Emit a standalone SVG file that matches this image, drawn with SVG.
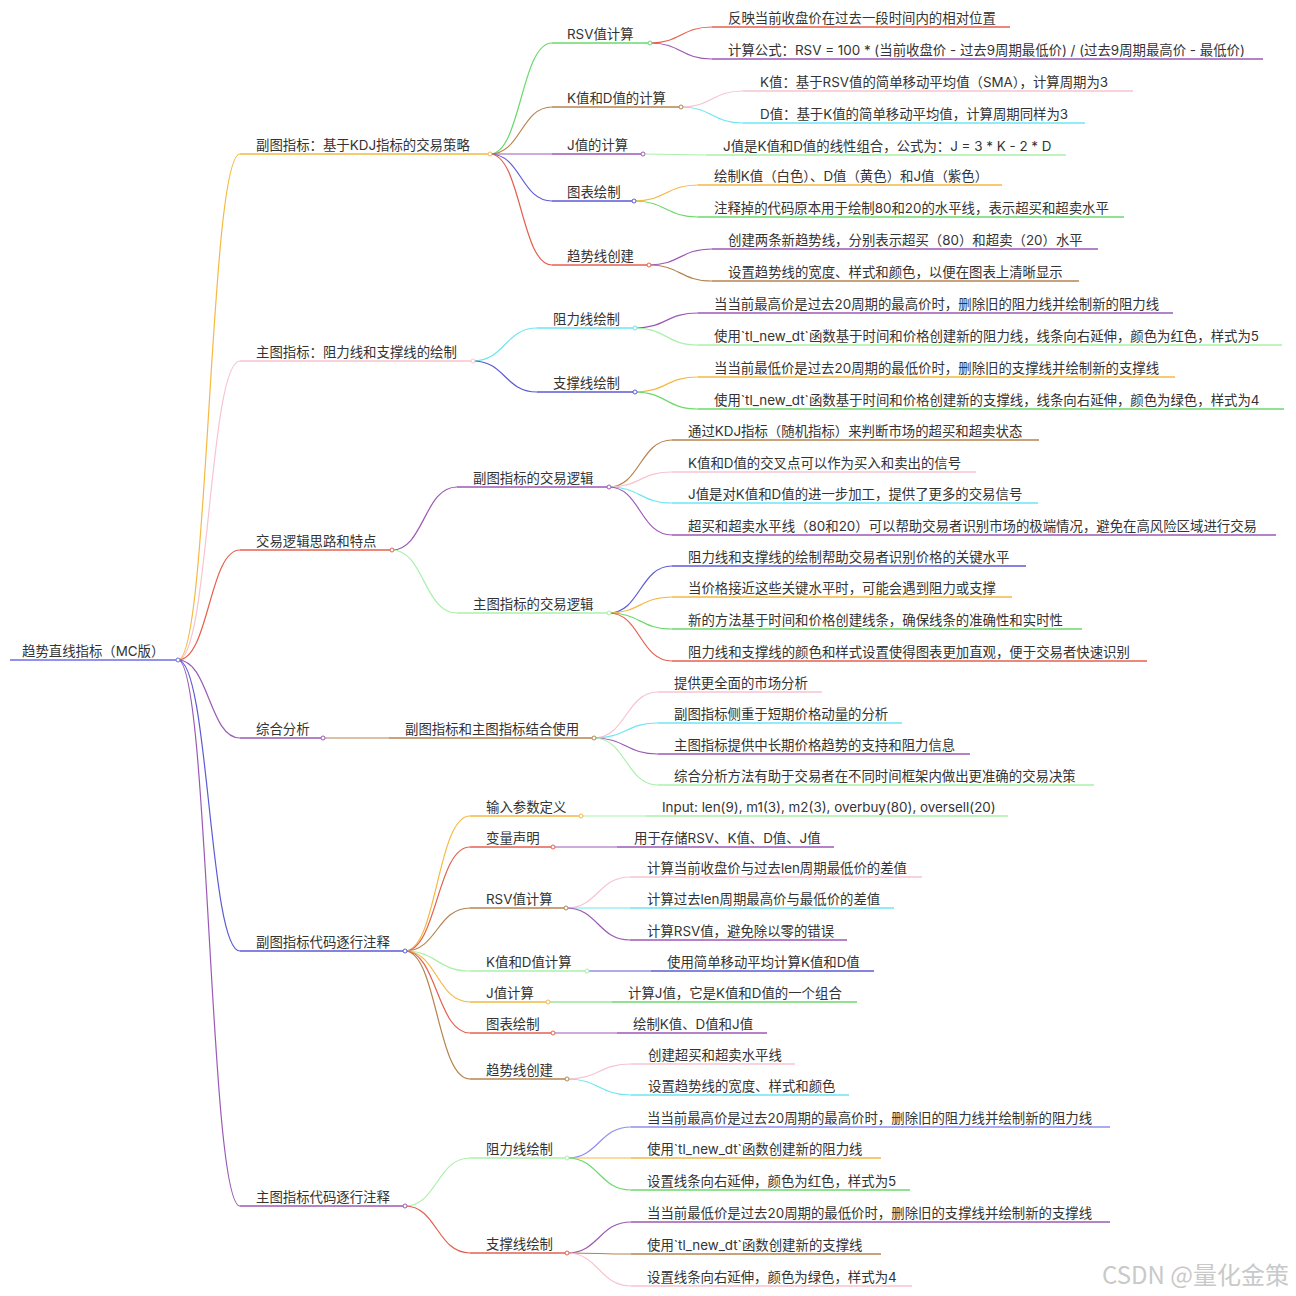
<svg xmlns="http://www.w3.org/2000/svg" width="1296" height="1296" viewBox="0 0 1296 1296">
<style>
text{font-family:"Inter","Noto Sans CJK SC",sans-serif;font-size:13.4px;fill:#333}
.u{fill:none;stroke-width:1.5}
.l{fill:none;stroke-width:1.2}
.d{fill:#fff;stroke-width:1}
.orange{stroke:#f4b942}.pink{stroke:#f7c4cf}.red{stroke:#e4604f}.purple{stroke:#9b59b6}.blue{stroke:#5b5bd6}.brown{stroke:#b5834e}.green{stroke:#6bd96b}.lgreen{stroke:#aaf0aa}.cyan{stroke:#6ee6f2}.lav{stroke:#8f8ff0}.root{stroke:#6e6ee6}
text.wm{font-family:"Noto Sans CJK SC",sans-serif;font-size:24px;fill:#c9c9c9}
</style>
<rect width="1296" height="1296" fill="#fff"/>
<g id="connectors">
<path class="l orange" d="M178 660C209 660 209 154 240 154"/>
<path class="l pink" d="M178 660C209 660 209 361 240 361"/>
<path class="l red" d="M178 660C209 660 209 550 240 550"/>
<path class="l purple" d="M178 660C209 660 209 738 240 738"/>
<path class="l blue" d="M178 660C209 660 209 951 240 951"/>
<path class="l purple" d="M178 660C209 660 209 1206 240 1206"/>
<path class="l green" d="M490 154C521 154 521 43 552 43"/>
<path class="l brown" d="M490 154C521 154 521 107 552 107"/>
<path class="l purple" d="M490 154H552"/>
<path class="l blue" d="M490 154C521 154 521 201 552 201"/>
<path class="l red" d="M490 154C521 154 521 265 552 265"/>
<path class="l red" d="M650 43C681 43 681 27 712 27"/>
<path class="l purple" d="M650 43C681 43 681 59 712 59"/>
<path class="l pink" d="M681 107C712 107 712 91 743 91"/>
<path class="l cyan" d="M681 107C712 107 712 123 743 123"/>
<path class="l lgreen" d="M643 154C675 154 675 155 706 155"/>
<path class="l orange" d="M634 201C666 201 666 185 698 185"/>
<path class="l green" d="M634 201C666 201 666 217 698 217"/>
<path class="l purple" d="M649 265C680 265 680 249 712 249"/>
<path class="l brown" d="M649 265C680 265 680 281 712 281"/>
<path class="l cyan" d="M473 361C505 361 505 328 537 328"/>
<path class="l blue" d="M473 361C505 361 505 392 537 392"/>
<path class="l purple" d="M635 328C666 328 666 313 698 313"/>
<path class="l lgreen" d="M635 328C666 328 666 345 698 345"/>
<path class="l orange" d="M635 392C666 392 666 377 698 377"/>
<path class="l green" d="M635 392C666 392 666 409 698 409"/>
<path class="l purple" d="M392 550C424 550 424 487 457 487"/>
<path class="l lgreen" d="M392 550C424 550 424 613 457 613"/>
<path class="l brown" d="M609 487C640 487 640 440 672 440"/>
<path class="l pink" d="M609 487C640 487 640 472 672 472"/>
<path class="l cyan" d="M609 487C640 487 640 503 672 503"/>
<path class="l purple" d="M609 487C640 487 640 535 672 535"/>
<path class="l blue" d="M609 613C640 613 640 566 672 566"/>
<path class="l orange" d="M609 613C640 613 640 597 672 597"/>
<path class="l green" d="M609 613C640 613 640 629 672 629"/>
<path class="l red" d="M609 613C640 613 640 661 672 661"/>
<path class="l brown" d="M323 738H389"/>
<path class="l pink" d="M594 738C626 738 626 692 658 692"/>
<path class="l cyan" d="M594 738C626 738 626 723 658 723"/>
<path class="l purple" d="M594 738C626 738 626 754 658 754"/>
<path class="l lgreen" d="M594 738C626 738 626 785 658 785"/>
<path class="l orange" d="M405 951C437 951 437 816 470 816"/>
<path class="l red" d="M405 951C437 951 437 847 470 847"/>
<path class="l brown" d="M405 951C437 951 437 908 470 908"/>
<path class="l lgreen" d="M405 951C437 951 437 971 470 971"/>
<path class="l orange" d="M405 951C437 951 437 1002 470 1002"/>
<path class="l red" d="M405 951C437 951 437 1033 470 1033"/>
<path class="l brown" d="M405 951C437 951 437 1079 470 1079"/>
<path class="l lgreen" d="M581 816H646"/>
<path class="l purple" d="M553 847H617"/>
<path class="l pink" d="M566 908C598 908 598 877 630 877"/>
<path class="l cyan" d="M566 908H630"/>
<path class="l purple" d="M566 908C598 908 598 940 630 940"/>
<path class="l blue" d="M587 971H651"/>
<path class="l green" d="M548 1002H612"/>
<path class="l purple" d="M553 1033H617"/>
<path class="l pink" d="M567 1079C599 1079 599 1064 631 1064"/>
<path class="l cyan" d="M567 1079C599 1079 599 1095 631 1095"/>
<path class="l lgreen" d="M405 1206C437 1206 437 1158 470 1158"/>
<path class="l red" d="M405 1206C437 1206 437 1253 470 1253"/>
<path class="l lav" d="M567 1158C599 1158 599 1127 631 1127"/>
<path class="l orange" d="M567 1158H631"/>
<path class="l green" d="M567 1158C599 1158 599 1190 631 1190"/>
<path class="l purple" d="M567 1253C599 1253 599 1222 631 1222"/>
<path class="l brown" d="M567 1253C599 1253 599 1254 631 1254"/>
<path class="l pink" d="M567 1253C599 1253 599 1286 631 1286"/>
</g>
<g id="n-root"><path class="u root" d="M10 660H178"/><circle class="d root" cx="178" cy="660" r="2"/><text x="22" y="656">趋势直线指标（MC版）</text></g>
<g id="n-A"><path class="u orange" d="M240 154H490"/><circle class="d orange" cx="490" cy="154" r="2"/><text x="256" y="150">副图指标：基于KDJ指标的交易策略</text></g>
<g id="n-A1"><path class="u green" d="M552 43H650"/><circle class="d green" cx="650" cy="43" r="2"/><text x="567" y="39">RSV值计算</text></g>
<g id="n-A1a"><path class="u red" d="M712 27H1010"/><text x="728" y="23">反映当前收盘价在过去一段时间内的相对位置</text></g>
<g id="n-A1b"><path class="u purple" d="M712 59H1263"/><text x="728" y="55">计算公式：RSV = 100 * (当前收盘价 - 过去9周期最低价) / (过去9周期最高价 - 最低价)</text></g>
<g id="n-A2"><path class="u brown" d="M552 107H681"/><circle class="d brown" cx="681" cy="107" r="2"/><text x="567" y="103">K值和D值的计算</text></g>
<g id="n-A2a"><path class="u pink" d="M743 91H1133"/><text x="760" y="87">K值：基于RSV值的简单移动平均值（SMA），计算周期为3</text></g>
<g id="n-A2b"><path class="u cyan" d="M743 123H1085"/><text x="760" y="119">D值：基于K值的简单移动平均值，计算周期同样为3</text></g>
<g id="n-A3"><path class="u purple" d="M552 154H643"/><circle class="d purple" cx="643" cy="154" r="2"/><text x="567" y="150">J值的计算</text></g>
<g id="n-A3a"><path class="u lgreen" d="M706 155H1066"/><text x="723" y="151">J值是K值和D值的线性组合，公式为：J = 3 * K - 2 * D</text></g>
<g id="n-A4"><path class="u blue" d="M552 201H634"/><circle class="d blue" cx="634" cy="201" r="2"/><text x="567" y="197">图表绘制</text></g>
<g id="n-A4a"><path class="u orange" d="M698 185H1002"/><text x="714" y="181">绘制K值（白色）、D值（黄色）和J值（紫色）</text></g>
<g id="n-A4b"><path class="u green" d="M698 217H1124"/><text x="714" y="213">注释掉的代码原本用于绘制80和20的水平线，表示超买和超卖水平</text></g>
<g id="n-A5"><path class="u red" d="M552 265H649"/><circle class="d red" cx="649" cy="265" r="2"/><text x="567" y="261">趋势线创建</text></g>
<g id="n-A5a"><path class="u purple" d="M712 249H1098"/><text x="728" y="245">创建两条新趋势线，分别表示超买（80）和超卖（20）水平</text></g>
<g id="n-A5b"><path class="u brown" d="M712 281H1079"/><text x="728" y="277">设置趋势线的宽度、样式和颜色，以便在图表上清晰显示</text></g>
<g id="n-B"><path class="u pink" d="M240 361H473"/><circle class="d pink" cx="473" cy="361" r="2"/><text x="256" y="357">主图指标：阻力线和支撑线的绘制</text></g>
<g id="n-B1"><path class="u cyan" d="M537 328H635"/><circle class="d cyan" cx="635" cy="328" r="2"/><text x="553" y="324">阻力线绘制</text></g>
<g id="n-B1a"><path class="u purple" d="M698 313H1173"/><text x="714" y="309">当当前最高价是过去20周期的最高价时，删除旧的阻力线并绘制新的阻力线</text></g>
<g id="n-B1b"><path class="u lgreen" d="M698 345H1282"/><text x="714" y="341">使用`tl_new_dt`函数基于时间和价格创建新的阻力线，线条向右延伸，颜色为红色，样式为5</text></g>
<g id="n-B2"><path class="u blue" d="M537 392H635"/><circle class="d blue" cx="635" cy="392" r="2"/><text x="553" y="388">支撑线绘制</text></g>
<g id="n-B2a"><path class="u orange" d="M698 377H1175"/><text x="714" y="373">当当前最低价是过去20周期的最低价时，删除旧的支撑线并绘制新的支撑线</text></g>
<g id="n-B2b"><path class="u green" d="M698 409H1284"/><text x="714" y="405">使用`tl_new_dt`函数基于时间和价格创建新的支撑线，线条向右延伸，颜色为绿色，样式为4</text></g>
<g id="n-C"><path class="u red" d="M240 550H392"/><circle class="d red" cx="392" cy="550" r="2"/><text x="256" y="546">交易逻辑思路和特点</text></g>
<g id="n-C1"><path class="u purple" d="M457 487H609"/><circle class="d purple" cx="609" cy="487" r="2"/><text x="473" y="483">副图指标的交易逻辑</text></g>
<g id="n-C1a"><path class="u brown" d="M672 440H1039"/><text x="688" y="436">通过KDJ指标（随机指标）来判断市场的超买和超卖状态</text></g>
<g id="n-C1b"><path class="u pink" d="M672 472H976"/><text x="688" y="468">K值和D值的交叉点可以作为买入和卖出的信号</text></g>
<g id="n-C1c"><path class="u cyan" d="M672 503H1038"/><text x="688" y="499">J值是对K值和D值的进一步加工，提供了更多的交易信号</text></g>
<g id="n-C1d"><path class="u purple" d="M672 535H1276"/><text x="688" y="531">超买和超卖水平线（80和20）可以帮助交易者识别市场的极端情况，避免在高风险区域进行交易</text></g>
<g id="n-C2"><path class="u lgreen" d="M457 613H609"/><circle class="d lgreen" cx="609" cy="613" r="2"/><text x="473" y="609">主图指标的交易逻辑</text></g>
<g id="n-C2a"><path class="u blue" d="M672 566H1026"/><text x="688" y="562">阻力线和支撑线的绘制帮助交易者识别价格的关键水平</text></g>
<g id="n-C2b"><path class="u orange" d="M672 597H1012"/><text x="688" y="593">当价格接近这些关键水平时，可能会遇到阻力或支撑</text></g>
<g id="n-C2c"><path class="u green" d="M672 629H1082"/><text x="688" y="625">新的方法基于时间和价格创建线条，确保线条的准确性和实时性</text></g>
<g id="n-C2d"><path class="u red" d="M672 661H1147"/><text x="688" y="657">阻力线和支撑线的颜色和样式设置使得图表更加直观，便于交易者快速识别</text></g>
<g id="n-D"><path class="u purple" d="M240 738H323"/><circle class="d purple" cx="323" cy="738" r="2"/><text x="256" y="734">综合分析</text></g>
<g id="n-D1"><path class="u brown" d="M389 738H594"/><circle class="d brown" cx="594" cy="738" r="2"/><text x="405" y="734">副图指标和主图指标结合使用</text></g>
<g id="n-D1a"><path class="u pink" d="M658 692H822"/><text x="674" y="688">提供更全面的市场分析</text></g>
<g id="n-D1b"><path class="u cyan" d="M658 723H902"/><text x="674" y="719">副图指标侧重于短期价格动量的分析</text></g>
<g id="n-D1c"><path class="u purple" d="M658 754H970"/><text x="674" y="750">主图指标提供中长期价格趋势的支持和阻力信息</text></g>
<g id="n-D1d"><path class="u lgreen" d="M658 785H1094"/><text x="674" y="781">综合分析方法有助于交易者在不同时间框架内做出更准确的交易决策</text></g>
<g id="n-E"><path class="u blue" d="M240 951H405"/><circle class="d blue" cx="405" cy="951" r="2"/><text x="256" y="947">副图指标代码逐行注释</text></g>
<g id="n-E1"><path class="u orange" d="M470 816H581"/><circle class="d orange" cx="581" cy="816" r="2"/><text x="486" y="812">输入参数定义</text></g>
<g id="n-E1a"><path class="u lgreen" d="M646 816H1008"/><text x="662" y="812">Input: len(9), m1(3), m2(3), overbuy(80), oversell(20)</text></g>
<g id="n-E2"><path class="u red" d="M470 847H553"/><circle class="d red" cx="553" cy="847" r="2"/><text x="486" y="843">变量声明</text></g>
<g id="n-E2a"><path class="u purple" d="M617 847H834"/><text x="634" y="843">用于存储RSV、K值、D值、J值</text></g>
<g id="n-E3"><path class="u brown" d="M470 908H566"/><circle class="d brown" cx="566" cy="908" r="2"/><text x="486" y="904">RSV值计算</text></g>
<g id="n-E3a"><path class="u pink" d="M630 877H922"/><text x="647" y="873">计算当前收盘价与过去len周期最低价的差值</text></g>
<g id="n-E3b"><path class="u cyan" d="M630 908H894"/><text x="647" y="904">计算过去len周期最高价与最低价的差值</text></g>
<g id="n-E3c"><path class="u purple" d="M630 940H847"/><text x="647" y="936">计算RSV值，避免除以零的错误</text></g>
<g id="n-E4"><path class="u lgreen" d="M470 971H587"/><circle class="d lgreen" cx="587" cy="971" r="2"/><text x="486" y="967">K值和D值计算</text></g>
<g id="n-E4a"><path class="u blue" d="M651 971H874"/><text x="667" y="967">使用简单移动平均计算K值和D值</text></g>
<g id="n-E5"><path class="u orange" d="M470 1002H548"/><circle class="d orange" cx="548" cy="1002" r="2"/><text x="486" y="998">J值计算</text></g>
<g id="n-E5a"><path class="u green" d="M612 1002H857"/><text x="628" y="998">计算J值，它是K值和D值的一个组合</text></g>
<g id="n-E6"><path class="u red" d="M470 1033H553"/><circle class="d red" cx="553" cy="1033" r="2"/><text x="486" y="1029">图表绘制</text></g>
<g id="n-E6a"><path class="u purple" d="M617 1033H767"/><text x="633" y="1029">绘制K值、D值和J值</text></g>
<g id="n-E7"><path class="u brown" d="M470 1079H567"/><circle class="d brown" cx="567" cy="1079" r="2"/><text x="486" y="1075">趋势线创建</text></g>
<g id="n-E7a"><path class="u pink" d="M631 1064H795"/><text x="648" y="1060">创建超买和超卖水平线</text></g>
<g id="n-E7b"><path class="u cyan" d="M631 1095H849"/><text x="648" y="1091">设置趋势线的宽度、样式和颜色</text></g>
<g id="n-F"><path class="u purple" d="M240 1206H405"/><circle class="d purple" cx="405" cy="1206" r="2"/><text x="256" y="1202">主图指标代码逐行注释</text></g>
<g id="n-F1"><path class="u lgreen" d="M470 1158H567"/><circle class="d lgreen" cx="567" cy="1158" r="2"/><text x="486" y="1154">阻力线绘制</text></g>
<g id="n-F1a"><path class="u lav" d="M631 1127H1110"/><text x="647" y="1123">当当前最高价是过去20周期的最高价时，删除旧的阻力线并绘制新的阻力线</text></g>
<g id="n-F1b"><path class="u orange" d="M631 1158H881"/><text x="647" y="1154">使用`tl_new_dt`函数创建新的阻力线</text></g>
<g id="n-F1c"><path class="u green" d="M631 1190H910"/><text x="647" y="1186">设置线条向右延伸，颜色为红色，样式为5</text></g>
<g id="n-F2"><path class="u red" d="M470 1253H567"/><circle class="d red" cx="567" cy="1253" r="2"/><text x="486" y="1249">支撑线绘制</text></g>
<g id="n-F2a"><path class="u purple" d="M631 1222H1110"/><text x="647" y="1218">当当前最低价是过去20周期的最低价时，删除旧的支撑线并绘制新的支撑线</text></g>
<g id="n-F2b"><path class="u brown" d="M631 1254H881"/><text x="647" y="1250">使用`tl_new_dt`函数创建新的支撑线</text></g>
<g id="n-F2c"><path class="u pink" d="M631 1286H912"/><text x="647" y="1282">设置线条向右延伸，颜色为绿色，样式为4</text></g>
<text class="wm" x="1102" y="1284">CSDN @量化金策</text>
</svg>
